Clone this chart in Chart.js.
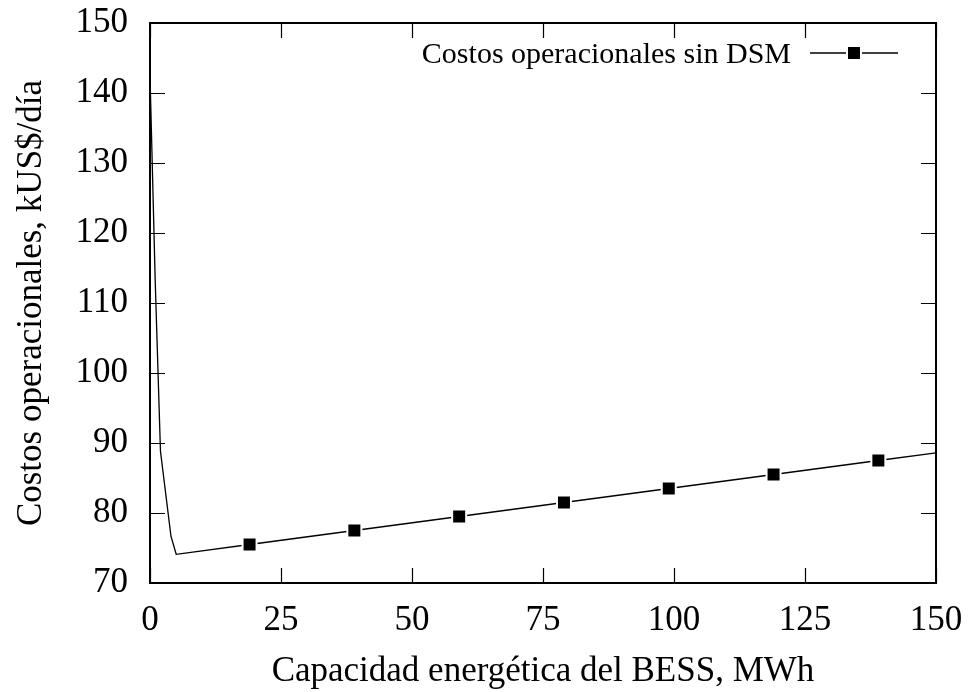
<!DOCTYPE html>
<html>
<head>
<meta charset="utf-8">
<script src="https://cdn.jsdelivr.net/npm/chart.js@4/dist/chart.umd.min.js"></script>
<style>
  html, body { margin: 0; padding: 0; background: #fff; }
  #wrap { width: 969px; height: 692px; }
</style>
</head>
<body>
<div id="wrap"><canvas id="costosChart" width="969" height="692"></canvas></div>
<script>
// Datos
var capacidad = [0, 1, 2, 4, 5, 19, 39, 59, 79, 99, 119, 139, 150];
var costos = [142.5, 113, 88.8, 76.7, 74.1, 75.5, 77.5, 79.5, 81.5, 83.5, 85.5, 87.5, 88.6];
var conMarcador = [false, false, false, false, false, true, true, true, true, true, true, true, false];
var ticksX = [0, 25, 50, 75, 100, 125, 150];
var ticksY = [70, 80, 90, 100, 110, 120, 130, 140, 150];

var etiquetaSerie = 'Costos operacionales sin DSM';
var tituloX = 'Capacidad energética del BESS, MWh';
var tituloY = 'Costos operacionales, kUS$/día';

var fuente = '"Liberation Serif", "Times New Roman", serif';

// marco, ticks hacia adentro, titulos y leyenda estilo gnuplot
var marcoPlugin = {
    id: 'marco',
    afterDraw: function (chart) {
        var ctx = chart.ctx;
        var a = chart.chartArea;
        var sx = chart.scales.x, sy = chart.scales.y;
        var largo = 15;
        ctx.save();
        ctx.strokeStyle = '#000';
        ctx.lineWidth = 1.2;
        ticksX.forEach(function (v) {
            var px = Math.round(sx.getPixelForValue(v)) + 0.5;
            ctx.beginPath();
            ctx.moveTo(px, a.bottom); ctx.lineTo(px, a.bottom - largo);
            ctx.moveTo(px, a.top); ctx.lineTo(px, a.top + largo);
            ctx.stroke();
        });
        ticksY.forEach(function (v) {
            var py = Math.round(sy.getPixelForValue(v)) + 0.5;
            ctx.beginPath();
            ctx.moveTo(a.left, py); ctx.lineTo(a.left + largo, py);
            ctx.moveTo(a.right, py); ctx.lineTo(a.right - largo, py);
            ctx.stroke();
        });
        ctx.lineWidth = 2;
        ctx.strokeRect(a.left, a.top, a.right - a.left, a.bottom - a.top);

        // titulos de ejes, centrados en el area del grafico
        ctx.fillStyle = '#000';
        ctx.font = '35px ' + fuente;
        ctx.textAlign = 'center';
        ctx.textBaseline = 'middle';
        ctx.fillText(tituloX, (a.left + a.right) / 2, 672);
        ctx.translate(32, (a.top + a.bottom) / 2);
        ctx.rotate(-Math.PI / 2);
        ctx.fillText(tituloY, 0, 0);
        ctx.restore();

        // leyenda
        ctx.save();
        ctx.font = '30px ' + fuente;
        ctx.fillStyle = '#000';
        ctx.textAlign = 'right';
        ctx.textBaseline = 'middle';
        ctx.fillText(chart.data.datasets[0].label, 791, 55);
        ctx.strokeStyle = '#000';
        ctx.lineWidth = 1.3;
        ctx.beginPath();
        ctx.moveTo(810, 53); ctx.lineTo(898, 53);
        ctx.stroke();
        ctx.fillStyle = '#fff';
        ctx.fillRect(846, 45, 16, 16);
        ctx.fillStyle = '#000';
        ctx.fillRect(848, 47, 12, 12);
        ctx.restore();
    }
};

var ctxCostos = document.getElementById('costosChart').getContext('2d');
var chartCostos = new Chart(ctxCostos, {
    type: 'line',
    data: {
        datasets: [{
            label: etiquetaSerie,
            data: capacidad.map(function (x, i) { return { x: x, y: costos[i] }; }),
            borderColor: '#000',
            borderWidth: 1.3,
            backgroundColor: '#000',
            pointStyle: 'rect',
            pointRadius: function (c) { return conMarcador[c.dataIndex] ? 9.9 : 0; },
            pointBorderColor: '#fff',
            pointBorderWidth: 2,
            pointBackgroundColor: '#000',
            tension: 0,
            fill: false
        }]
    },
    options: {
        responsive: false,
        animation: false,
        layout: { padding: { top: 23, right: 33, left: 0, bottom: 0 } },
        plugins: {
            legend: { display: false },
            tooltip: { enabled: false }
        },
        scales: {
            x: {
                type: 'linear',
                min: 0,
                max: 150,
                afterBuildTicks: function (s) { s.ticks = ticksX.map(function (v) { return { value: v }; }); },
                afterFit: function (s) { s.height = 109; s.paddingLeft = 0; s.paddingRight = 0; },
                grid: { display: false, drawTicks: false },
                border: { display: false },
                ticks: {
                    color: '#000',
                    padding: 17,
                    maxRotation: 0,
                    font: { family: fuente, size: 35 }
                }
            },
            y: {
                type: 'linear',
                min: 70,
                max: 150,
                afterBuildTicks: function (s) { s.ticks = ticksY.map(function (v) { return { value: v }; }); },
                afterFit: function (s) { s.width = 150; s.paddingTop = 0; s.paddingBottom = 0; },
                grid: { display: false, drawTicks: false },
                border: { display: false },
                ticks: {
                    color: '#000',
                    padding: 22,
                    font: { family: fuente, size: 35 }
                }
            }
        }
    },
    plugins: [marcoPlugin]
});
</script>
</body>
</html>
